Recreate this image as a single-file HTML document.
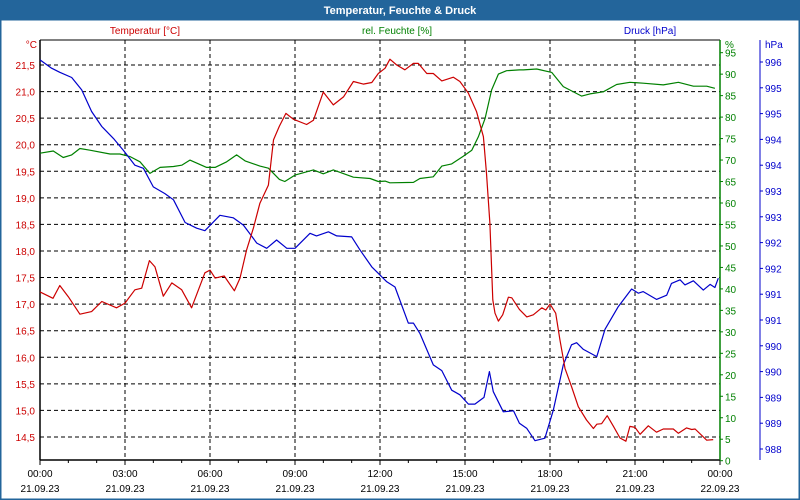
<!DOCTYPE html>
<html><head><meta charset="utf-8">
<style>
html,body{margin:0;padding:0;background:#fff;}
svg{display:block;font-family:"Liberation Sans",sans-serif;}
</style></head>
<body>
<svg id="chart" width="800" height="500" viewBox="0 0 800 500">
  <rect x="0" y="0" width="800" height="500" fill="#fff"/>
  <rect x="0" y="0" width="800" height="20" fill="#23659b"/>
  <text x="400" y="14" fill="#fff" font-size="11" font-weight="bold" text-anchor="middle">Temperatur, Feuchte &amp; Druck</text>
  <rect x="0.5" y="19.5" width="799" height="480" fill="none" stroke="#23659b" stroke-width="2"/>
  <text x="145" y="34" fill="#cc0000" font-size="10" text-anchor="middle">Temperatur [°C]</text>
  <text x="397" y="34" fill="#008000" font-size="10" text-anchor="middle">rel. Feuchte [%]</text>
  <text x="650" y="34" fill="#0000cc" font-size="10" text-anchor="middle">Druck [hPa]</text>
  <text x="37" y="48" fill="#cc0000" font-size="10" text-anchor="end">°C</text>
  <text x="725" y="48" fill="#008000" font-size="10">%</text>
  <text x="765" y="48" fill="#0000cc" font-size="10">hPa</text>
  <g id="grid"></g>
  <g id="axes"></g>
  <g id="series"></g>
</svg>
<script>
const NS="http://www.w3.org/2000/svg";
// ---- data ----
const xTickLabels=["00:00","03:00","06:00","09:00","12:00","15:00","18:00","21:00","00:00"];
const xDateLabels=["21.09.23","21.09.23","21.09.23","21.09.23","21.09.23","21.09.23","21.09.23","21.09.23","22.09.23"];
const tempTicks=[21.5,21.0,20.5,20.0,19.5,19.0,18.5,18.0,17.5,17.0,16.5,16.0,15.5,15.0,14.5];
const humTicks=[0,5,10,15,20,25,30,35,40,45,50,55,60,65,70,75,80,85,90,95];
const pressTicks=[995.6,995.1,994.6,994.1,993.6,993.1,992.6,992.1,991.6,991.1,990.6,990.1,989.6,989.1,988.6,988.1];
const tempHours=[0,0.46,0.7,1.0,1.41,1.82,2.18,2.7,3.0,3.35,3.59,3.86,4.06,4.35,4.65,5.0,5.35,5.82,6.0,6.18,6.5,6.86,7.06,7.29,7.53,7.76,8.06,8.24,8.45,8.68,8.94,9.41,9.65,10.0,10.35,10.71,11.06,11.41,11.71,11.94,12.18,12.35,12.59,12.88,13.18,13.35,13.65,13.88,14.18,14.59,14.82,15.12,15.41,15.65,15.76,15.88,15.98,16.06,16.18,16.33,16.53,16.65,16.92,17.18,17.41,17.71,17.85,18.0,18.2,18.35,18.53,18.76,19.0,19.29,19.53,19.65,19.82,20.02,20.24,20.47,20.68,20.82,21.0,21.18,21.47,21.76,22.0,22.35,22.53,22.82,23.0,23.12,23.53,23.76];
const tempValues=[17.23,17.11,17.35,17.14,16.81,16.86,17.05,16.93,17.02,17.27,17.30,17.82,17.70,17.15,17.40,17.27,16.93,17.59,17.64,17.49,17.53,17.25,17.49,18.02,18.43,18.90,19.24,20.09,20.35,20.59,20.48,20.38,20.46,20.99,20.75,20.90,21.19,21.14,21.17,21.34,21.44,21.61,21.50,21.41,21.53,21.53,21.34,21.34,21.20,21.27,21.19,20.97,20.62,20.15,19.46,18.52,17.08,16.83,16.68,16.80,17.13,17.12,16.90,16.76,16.80,16.93,16.89,17.00,16.83,16.33,15.79,15.45,15.07,14.82,14.66,14.74,14.75,14.90,14.70,14.48,14.42,14.70,14.68,14.55,14.71,14.59,14.65,14.65,14.57,14.67,14.64,14.65,14.44,14.45];
const humHours=[0,0.47,0.82,1.12,1.41,1.76,2.47,2.82,3.18,3.53,3.88,4.24,4.71,5.0,5.29,5.88,6.18,6.59,6.94,7.24,7.76,8.06,8.45,8.64,9.0,9.65,10.0,10.35,11.06,11.65,11.94,12.18,12.35,13.18,13.41,13.88,14.18,14.53,14.94,15.24,15.47,15.71,15.94,16.18,16.47,16.92,17.06,17.53,18.06,18.47,19.12,19.41,19.88,20.35,20.82,21.29,22.0,22.53,23.06,23.53,23.82];
const humValues=[71.6,72.1,70.6,71.2,72.7,72.3,71.4,71.4,70.8,69.6,66.9,68.3,68.5,68.8,70.0,68.3,68.3,69.6,71.2,69.8,68.6,68.1,65.5,65.0,66.5,67.7,66.8,67.7,66.0,65.7,65.0,65.1,64.7,64.8,65.7,66.1,68.6,69.1,70.9,72.3,75.4,79.7,86.3,90.0,90.8,91.0,91.0,91.2,90.4,87.1,84.9,85.4,85.9,87.6,88.1,87.9,87.5,88.1,87.2,87.2,86.7];
const pressHours=[0,0.41,0.7,1.12,1.47,1.82,2.18,2.59,2.94,3.35,3.65,4.0,4.41,4.71,5.12,5.53,5.82,6.35,6.82,7.18,7.65,8.0,8.35,8.71,9.0,9.53,9.76,10.18,10.47,11.0,11.29,11.71,12.24,12.53,13.0,13.18,13.41,13.88,14.18,14.53,14.82,15.12,15.35,15.67,15.86,16.0,16.35,16.71,16.92,17.18,17.47,17.82,18.12,18.47,18.76,18.94,19.18,19.65,19.94,20.41,20.88,21.12,21.29,21.76,22.12,22.29,22.59,22.76,23.06,23.41,23.65,23.82,23.94];
const pressValues=[995.64,995.48,995.40,995.30,995.06,994.64,994.35,994.12,993.89,993.60,993.54,993.18,993.05,992.93,992.49,992.38,992.33,992.63,992.58,992.44,992.09,991.99,992.15,991.99,991.99,992.28,992.23,992.31,992.23,992.21,991.96,991.63,991.34,991.24,990.54,990.54,990.34,989.73,989.62,989.24,989.15,988.97,988.97,989.10,989.60,989.21,988.82,988.84,988.60,988.50,988.26,988.31,988.86,989.73,990.12,990.16,990.03,989.89,990.42,990.86,991.20,991.12,991.15,991.00,991.08,991.31,991.38,991.28,991.36,991.18,991.29,991.23,991.41];
// ---- scales ----
const X0=40,X1=720,Y0=40,Y1=460;
const xs=h=>X0+(h/24)*(X1-X0);
const yT=v=>65+(21.5-v)/0.5*26.57;
const yH=v=>460.7-v*4.295;
const yP=v=>62+(995.6-v)*51.6;
function mk(tag,attrs,parent,txt){const e=document.createElementNS(NS,tag);for(const k in attrs)e.setAttribute(k,attrs[k]);if(txt!==undefined)e.textContent=txt;parent.appendChild(e);return e;}
const grid=document.getElementById('grid'),axes=document.getElementById('axes'),series=document.getElementById('series');
// horizontal grid + temp labels
tempTicks.forEach(t=>{const y=yT(t);
  const l=mk('line',{x1:X0,x2:X1,y1:y,y2:y,stroke:'#000','stroke-dasharray':'4,3','stroke-width':1},grid);
  
  
  const tx=mk('text',{x:35,y:y+4,fill:'#cc0000','font-size':10,'text-anchor':'end'},axes,t.toFixed(1).replace('.',','));
  
  
});
// vertical grid + x labels
xTickLabels.forEach((lab,i)=>{const x=xs(i*3);
  if(i>0&&i<8){const l=mk('line',{x1:x,x2:x,y1:Y0,y2:Y1,stroke:'#000','stroke-dasharray':'4,3','stroke-width':1},grid);
  
  }
  const t1=mk('text',{x:x,y:477,fill:'#000','font-size':10,'text-anchor':'middle'},axes,lab);
  
  
  const t2=mk('text',{x:x,y:492,fill:'#000','font-size':10,'text-anchor':'middle'},axes,xDateLabels[i]);
  
  
});
for(let h=0;h<=24;h++){const x=xs(h);const tk=mk('line',{x1:x,x2:x,y1:Y1,y2:Y1+(h%3?3:5),stroke:'#000'},axes);
  
  }
// axis lines
const ax1=mk('line',{x1:X0,x2:X0,y1:Y0,y2:Y1,stroke:'#000','stroke-width':1.5},axes);


const ax0=mk('line',{x1:X0,x2:X1,y1:Y0,y2:Y0,stroke:'#000'},axes);


const axb=mk('line',{x1:X0,x2:X1,y1:Y1,y2:Y1,stroke:'#000','stroke-width':1.5},axes);


const ax2=mk('line',{x1:X1,x2:X1,y1:Y0,y2:Y1,stroke:'#008000','stroke-width':1.5},axes);


const ax3=mk('line',{x1:760,x2:760,y1:Y0,y2:Y1,stroke:'#0000cc','stroke-width':1},axes);


humTicks.forEach(v=>{const y=yH(v);
  const tk=mk('line',{x1:X1,x2:X1+3,y1:y,y2:y,stroke:'#008000'},axes);
  
  
  const t=mk('text',{x:725,y:y+4,fill:'#008000','font-size':10},axes,String(v));
  
  
});
pressTicks.forEach(v=>{const y=yP(v);
  const tk=mk('line',{x1:760,x2:763,y1:y,y2:y,stroke:'#0000cc'},axes);
  
  
  const t=mk('text',{x:765,y:y+4,fill:'#0000cc','font-size':10},axes,String(Math.round(v)));
  
  
});
function line(hours,vals,yf,color,name){
  const d=hours.map((h,i)=>(i?'L':'M')+xs(h).toFixed(1)+','+yf(vals[i]).toFixed(1)).join(' ');
  const p=mk('path',{d:d,fill:'none',stroke:color,'stroke-width':1.2,'stroke-linejoin':'round'},series);
  
  
}
line(humHours,humValues,yH,'#008000','humidity-line');
line(pressHours,pressValues,yP,'#0000cc','pressure-line');
line(tempHours,tempValues,yT,'#cc0000','temperature-line');
</script>
</body></html>
